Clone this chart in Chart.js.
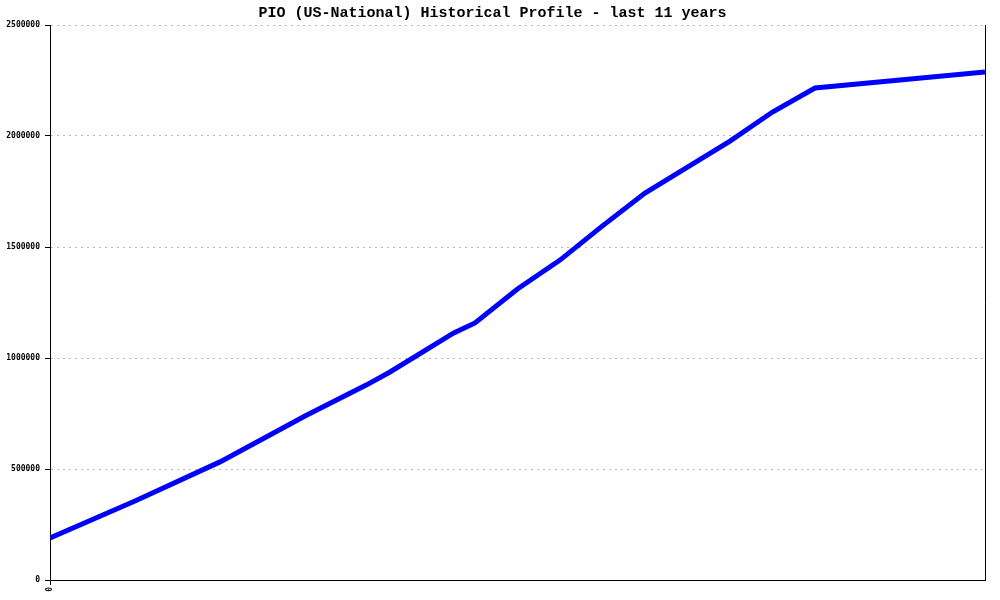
<!DOCTYPE html>
<html lang="en">

<head>
    <meta charset="UTF-8">
    <title>PIO Historical Profile</title>
    <script src="https://cdn.jsdelivr.net/npm/chart.js"></script>
    <style>
        body {
            margin: 0;
            background: #ffffff;
        }

        canvas {
            display: block;
        }
    </style>
</head>

<body>
    <canvas id="profileChart" width="1000" height="600"></canvas>

    <script>
        // time position (years from start) and value
        const years = [0, 1, 2, 3, 3.72, 4, 4.75, 5, 5.5, 6, 6.5, 7, 7.5, 8, 8.5, 9, 10, 11];
        const counts = [189000, 356000, 532000, 739000, 878000, 937000, 1113000, 1158000, 1311000,
            1441000, 1595000, 1743000, 1860000, 1977000, 2108000, 2216000, 2252000, 2288000];
        const yTicks = [0, 500000, 1000000, 1500000, 2000000, 2500000];
        const xTicks = [0];

        const points = years.map((x, i) => ({ x: x, y: counts[i] }));

        // right-hand frame line
        const rightBorder = {
            id: 'rightBorder',
            afterDraw(chart) {
                const { ctx, chartArea } = chart;
                ctx.save();
                ctx.strokeStyle = '#000000';
                ctx.lineWidth = 1;
                ctx.beginPath();
                ctx.moveTo(Math.round(chartArea.right) + 0.5, chartArea.top);
                ctx.lineTo(Math.round(chartArea.right) + 0.5, chartArea.bottom);
                ctx.stroke();
                ctx.restore();
            }
        };

        const ctx = document.getElementById('profileChart').getContext('2d');
        const chart = new Chart(ctx, {
            type: 'line',
            data: {
                datasets: [{
                    label: 'PIO',
                    data: points,
                    borderColor: '#0000ff',
                    borderWidth: 5,
                    pointRadius: 0,
                    tension: 0,
                    fill: false
                }]
            },
            options: {
                responsive: false,
                animation: false,
                layout: {
                    padding: { left: 0, right: 15, top: 0, bottom: 0 }
                },
                plugins: {
                    legend: { display: false },
                    tooltip: { enabled: false },
                    title: {
                        display: true,
                        text: 'PIO (US-National) Historical Profile - last 11 years',
                        color: '#000000',
                        font: { family: "'Liberation Mono', 'DejaVu Sans Mono', monospace", size: 15, weight: 'bold', lineHeight: 1.2 },
                        padding: { top: 4, bottom: 3 }
                    }
                },
                scales: {
                    x: {
                        type: 'linear',
                        min: 0,
                        max: 11,
                        afterBuildTicks: (axis) => {
                            axis.ticks = xTicks.map(v => ({ value: v }));
                        },
                        afterFit: (axis) => {
                            axis.height = 20;
                        },
                        ticks: {
                            color: '#000000',
                            minRotation: 90,
                            maxRotation: 90,
                            padding: 2,
                            callback: (value) => String(value),
                            font: { family: "'DejaVu Sans Mono', monospace", size: 8, weight: 'bold' }
                        },
                        grid: {
                            drawOnChartArea: false,
                            tickLength: 5,
                            tickColor: '#000000'
                        },
                        border: { color: '#000000', width: 1 }
                    },
                    y: {
                        min: 0,
                        max: 2500000,
                        afterBuildTicks: (axis) => {
                            axis.ticks = yTicks.map(v => ({ value: v }));
                        },
                        afterFit: (axis) => {
                            axis.width = 50;
                        },
                        ticks: {
                            color: '#000000',
                            padding: 5,
                            callback: (value) => String(value),
                            font: { family: "'DejaVu Sans Mono', monospace", size: 8, weight: 'bold' }
                        },
                        grid: {
                            color: '#b8b8b8',
                            tickColor: '#000000',
                            tickLength: 5
                        },
                        border: { color: '#000000', width: 1, dash: [2, 4] }
                    }
                }
            },
            plugins: [rightBorder]
        });
    </script>
</body>

</html>
